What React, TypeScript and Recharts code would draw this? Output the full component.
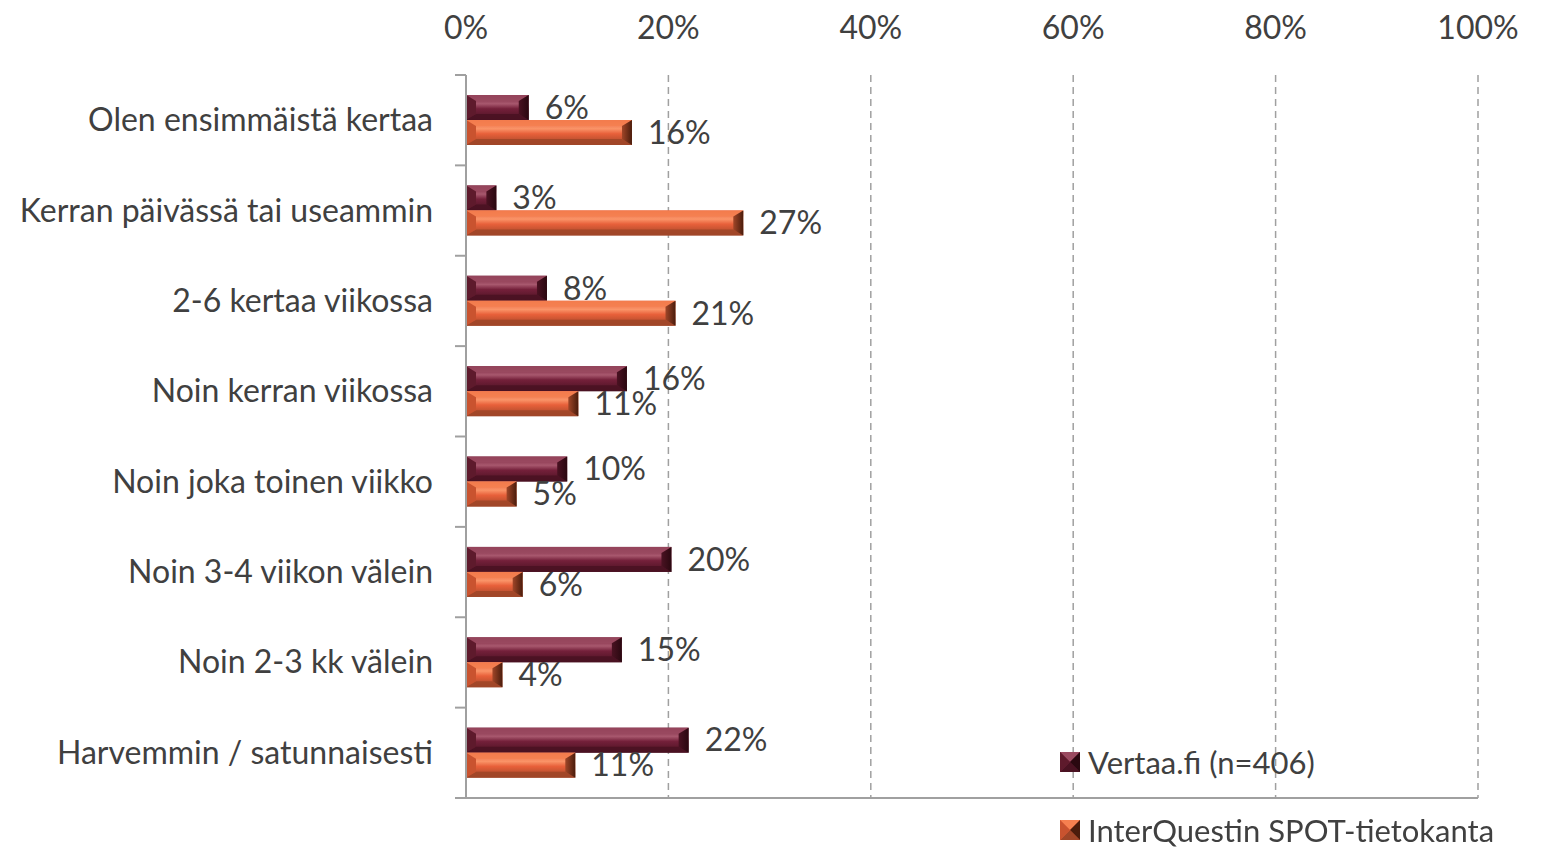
import { BarChart, Bar, XAxis, YAxis, CartesianGrid, LabelList } from "recharts";

const categories = [
  "Olen ensimmäistä kertaa",
  "Kerran päivässä tai useammin",
  "2-6 kertaa viikossa",
  "Noin kerran viikossa",
  "Noin joka toinen viikko",
  "Noin 3-4 viikon välein",
  "Noin 2-3 kk välein",
  "Harvemmin / satunnaisesti",
];
const vertaa = [6.2, 3.0, 8.0, 15.9, 10.0, 20.3, 15.4, 22.0];
const spot = [16.4, 27.4, 20.7, 11.1, 5.0, 5.6, 3.6, 10.8];
const xTicks = [0, 20, 40, 60, 80, 100];

const seriesNames = { vertaa: "Vertaa.fi (n=406)", spot: "InterQuestin SPOT-tietokanta" };

const W = 1541;
const H = 848;
const M = { top: 0, right: 63, bottom: 40, left: 0 };
const TOP_AXIS_H = 75;
const BOTTOM_AXIS_H = 10;
const PLOT_H = H - M.top - M.bottom - TOP_AXIS_H - BOTTOM_AXIS_H;

const FONT = "Lato, 'Open Sans', sans-serif";
const FS = 32;
const TXT = "#404040";
const AXIS = "#a0a0a0";

const palettes: Record<string, any> = {
  vertaa: { top: "#9a4a60", mid: "#74203a", bot: "#4a1222", left: "#5e1a2c", right: "#2a0810", hl: "#a8586e" },
  spot: { top: "#f58050", mid: "#e8603a", bot: "#a04628", left: "#c9532f", right: "#4a1c0c", hl: "#fa9468" },
};

const data = categories.map((c, i) => ({ name: c, vertaa: vertaa[i], spot: spot[i] }));

function BevelBar(props: any) {
  const { x, y, width, height, dataKey } = props;
  if (!width || width <= 0) return null;
  const p = palettes[dataKey];
  const bx = Math.min(10, width / 2);
  const by = Math.min(6, height / 2);
  const x2 = x + width;
  const y2 = y + height;
  return (
    <g>
      <rect x={x} y={y} width={width} height={height} fill={`url(#grad-${dataKey})`} />
      <polygon points={`${x},${y} ${x2},${y} ${x2 - bx},${y + by} ${x + bx},${y + by}`} fill={p.top} opacity={0.85} />
      <polygon points={`${x},${y2} ${x2},${y2} ${x2 - bx},${y2 - by} ${x + bx},${y2 - by}`} fill={p.bot} opacity={0.9} />
      <polygon points={`${x},${y} ${x + bx},${y + by} ${x + bx},${y2 - by} ${x},${y2}`} fill={p.left} />
      <polygon points={`${x2},${y} ${x2 - bx},${y + by} ${x2 - bx},${y2 - by} ${x2},${y2}`} fill={`url(#end-${dataKey})`} />
    </g>
  );
}

function CategoryTick(props: any) {
  const { x, y, payload, index } = props;
  const band = PLOT_H / categories.length;
  const ax = x + 33;
  return (
    <g>
      <line x1={ax - 11} x2={ax} y1={y - band / 2} y2={y - band / 2} stroke={AXIS} strokeWidth={2} />
      {index === categories.length - 1 && (
        <line x1={ax - 11} x2={ax} y1={y + band / 2} y2={y + band / 2} stroke={AXIS} strokeWidth={2} />
      )}
      <text x={x} y={y} dy={11} textAnchor="end" fill={TXT} fontSize={FS} fontFamily={FONT}>
        {payload.value}
      </text>
    </g>
  );
}

function LegendSwatch({ k }: { k: string }) {
  const p = palettes[k];
  return (
    <svg width={20} height={20} style={{ display: "block" }}>
      <rect x={0} y={0} width={20} height={20} fill={p.mid} />
      <polygon points="0,0 20,0 10,10" fill={p.top} />
      <polygon points="0,20 20,20 10,10" fill={p.bot} />
      <polygon points="0,0 0,20 10,10" fill={p.left} />
      <polygon points="20,0 20,20 10,10" fill={p.right} />
    </svg>
  );
}

function ChartLegend() {
  return (
    <div style={{ position: "absolute", left: 1060, top: 744, fontFamily: FONT, fontSize: 31, color: TXT, lineHeight: "36px" }}>
      {(["vertaa", "spot"] as const).map((k, i) => (
        <div key={k} style={{ display: "flex", alignItems: "center", height: 36, marginTop: i === 0 ? 0 : 32 }}>
          <LegendSwatch k={k} />
          <span style={{ marginLeft: 8, whiteSpace: "nowrap" }}>{seriesNames[k]}</span>
        </div>
      ))}
    </div>
  );
}

export default function App() {
  return (
    <div style={{ position: "fixed", left: 0, top: 0, width: W, height: H, background: "#fff" }}>
      <BarChart
        width={W}
        height={H}
        data={data}
        layout="vertical"
        margin={M}
        barGap={0}
        barSize={25}
      >
        <defs>
          {Object.keys(palettes).map((k) => (
            <linearGradient key={k} id={`grad-${k}`} x1="0" y1="0" x2="0" y2="1">
              <stop offset="0%" stopColor={palettes[k].mid} />
              <stop offset="35%" stopColor={palettes[k].hl} />
              <stop offset="55%" stopColor={palettes[k].mid} />
              <stop offset="100%" stopColor={palettes[k].bot} />
            </linearGradient>
          ))}
          {Object.keys(palettes).map((k) => (
            <linearGradient key={`e${k}`} id={`end-${k}`} x1="0" y1="0" x2="1" y2="0">
              <stop offset="0%" stopColor={palettes[k].bot} />
              <stop offset="100%" stopColor={palettes[k].right} />
            </linearGradient>
          ))}
        </defs>
        <CartesianGrid horizontal={false} stroke={AXIS} strokeDasharray="7 5" strokeWidth={1.5} />
        <XAxis
          type="number"
          orientation="top"
          domain={[0, 100]}
          ticks={xTicks}
          height={TOP_AXIS_H}
          axisLine={false}
          tickLine={false}
          tickSize={0}
          tickMargin={36}
          tickFormatter={(v) => `${v}%`}
          tick={{ fill: TXT, fontSize: FS, fontFamily: FONT }}
        />
        <XAxis
          xAxisId="bottom"
          type="number"
          orientation="bottom"
          domain={[0, 100]}
          ticks={xTicks}
          height={BOTTOM_AXIS_H}
          axisLine={{ stroke: AXIS, strokeWidth: 2 }}
          tickLine={{ stroke: AXIS, strokeWidth: 2 }}
          tickSize={10}
          tick={() => <g />}
        />
        <YAxis
          type="category"
          dataKey="name"
          width={466}
          axisLine={{ stroke: AXIS, strokeWidth: 2 }}
          tickLine={false}
          tickSize={0}
          tickMargin={33}
          interval={0}
          tick={<CategoryTick />}
        />
        {(["vertaa", "spot"] as const).map((k) => (
          <Bar key={k} dataKey={k} name={seriesNames[k]} fill={palettes[k].mid} shape={<BevelBar />} isAnimationActive={false}>
            <LabelList
              dataKey={k}
              position="right"
              offset={16}
              formatter={(v: any) => `${Math.round(Number(v))}%`}
              style={{ fill: TXT, fontSize: FS, fontFamily: FONT }}
            />
          </Bar>
        ))}
      </BarChart>
      <ChartLegend />
    </div>
  );
}
